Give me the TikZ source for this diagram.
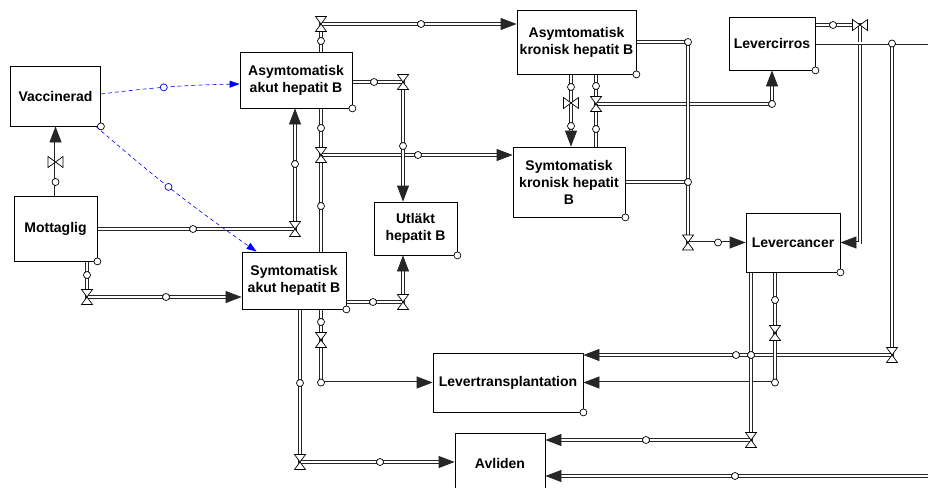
\documentclass[tikz,border=0pt]{standalone}
\usepackage{fontspec}
\setmainfont{Liberation Sans}
\usetikzlibrary{arrows.meta, calc, backgrounds}

\begin{document}
\begin{tikzpicture}[
    x=1pt, y=-1pt,
    every node/.style={font=\fontsize{14}{17}\selectfont\bfseries},
    stock/.style={draw, line width=0.8pt, align=center, inner sep=2pt, fill=white},
    pipe/.style={draw=black!85, line width=0.8pt, double=white, double distance=2pt},
    flow/.style={pipe, -{Triangle[length=16pt, width=12pt]}},
    hdl/.style={circle, draw, solid, fill=white, line width=0.7pt, inner sep=0pt, minimum size=7pt},
    lhdl/.style={hdl, draw=blue},
    link/.style={draw=blue, line width=0.6pt, dash pattern=on 4pt off 3pt, -{Triangle[length=10pt, width=7pt]}},
    valveh/.style={inner sep=0pt, minimum width=13pt, minimum height=17pt, path picture={
        \draw[line width=0.7pt, fill=white]
          ($(path picture bounding box.center)+(-5.5,-7.5)$) -- ($(path picture bounding box.center)+(5.5,-7.5)$)
          -- ($(path picture bounding box.center)+(-5.5,7.5)$) -- ($(path picture bounding box.center)+(5.5,7.5)$) -- cycle;}},
    valvev/.style={inner sep=0pt, minimum width=17pt, minimum height=13pt, path picture={
        \draw[line width=0.7pt, fill=white]
          ($(path picture bounding box.center)+(-7.5,-5.5)$) -- ($(path picture bounding box.center)+(-7.5,5.5)$)
          -- ($(path picture bounding box.center)+(7.5,-5.5)$) -- ($(path picture bounding box.center)+(7.5,5.5)$) -- cycle;}},
  ]
  \useasboundingbox (0,0) rectangle (928,487);
  % --- stocks
  \node[stock, minimum width=90pt, minimum height=60pt] (vac) at (55.5,96) {Vaccinerad};
  \node[stock, minimum width=83pt, minimum height=65pt] (mott) at (55.5,228.5) {Mottaglig};
  \node[stock, minimum width=112pt, minimum height=56pt] (asa) at (296,80) {Asymtomatisk\\akut hepatit B};
  \node[stock, minimum width=104pt, minimum height=57pt] (sya) at (294,280.5) {Symtomatisk\\akut hepatit B};
  \node[stock, minimum width=83pt, minimum height=53pt] (utl) at (415.5,228.5) {Utläkt\\hepatit B};
  \node[stock, minimum width=119pt, minimum height=64pt] (ask) at (576.5,42) {Asymtomatisk\\kronisk hepatit B};
  \node[stock, minimum width=112pt, minimum height=70pt] (syk) at (569,182) {Symtomatisk\\kronisk hepatit\\B};
  \node[stock, minimum width=86pt, minimum height=53pt] (cir) at (772,43.5) {Levercirros};
  \node[stock, minimum width=94pt, minimum height=59pt] (can) at (793,242.5) {Levercancer};
  \node[stock, minimum width=150pt, minimum height=59pt] (ltx) at (508,382.5) {Levertransplantation};
  \node[stock, minimum width=90pt, minimum height=60pt] (avl) at (500,463) {Avliden};
  % --- valves
  \node[valvev] (v1) at (55.5,162) {};
  \node[valveh] (v2) at (295,229) {};
  \node[valveh] (v3) at (87,297) {};
  \node[valveh] (v4) at (321,24) {};
  \node[valveh] (v5) at (321,155) {};
  \node[valveh] (v6) at (403,82) {};
  \node[valveh] (v7) at (403,302) {};
  \node[valvev] (v8) at (571,103) {};
  \node[valveh] (v9) at (596,104) {};
  \node[valveh] (v10) at (688,242.5) {};
  \node[valvev] (v11) at (860,25) {};
  \node[valveh] (v12) at (892,355) {};
  \node[valveh] (v13) at (775,333) {};
  \node[valveh] (v14) at (751,440) {};
  \node[valveh] (v15) at (321,340) {};
  \node[valveh] (v16) at (300,462) {};
  \node[valveh] (v17) at (934,476) {};
  \coordinate (out) at (950,43.5);
  % --- pipes
  \begin{scope}[on background layer]
    \draw[flow] (mott.north) -- (vac.south);
    \draw[flow] (v2.center -| mott.east) -- (v2.center) -- (v2.center |- asa.south);
    \draw[flow] (v3.center |- mott.south) -- (v3.center) -- (v3.center -| sya.west);
    \draw[flow] (v4.center |- asa.north) -- (v4.center) -- (v4.center -| ask.west);
    \draw[flow] (v5.center |- asa.south) -- (v5.center) -- (v5.center -| syk.west);
    \draw[pipe] (v5.center |- sya.north) -- (v5.center);
    \draw[flow] (v6.center -| asa.east) -- (v6.center) -- (v6.center |- utl.north);
    \draw[flow] (v7.center -| sya.east) -- (v7.center) -- (v7.center |- utl.south);
    \draw[flow] (v8.center |- ask.south) -- (v8.center |- syk.north);
    \draw[flow] (v9.center |- ask.south) -- (v9.center) -- (v9.center -| cir.south) -- (cir.south);
    \draw[pipe] (v9.center |- syk.north) -- (v9.center);
    \draw[flow] (ask.east) -- (ask.east -| v10.center) -- (v10.center) -- (can.west);
    \draw[pipe] (syk.east) -- (syk.east -| v10.center);
    \draw[flow] (v11.center -| cir.east) -- (v11.center) -- (v11.center |- can.east) -- (can.east);
    \draw[flow] (cir.east) -- (cir.east -| v12.center) -- (v12.center) -- (v12.center -| ltx.east);
    \draw[flow] (cir.east) -- (out) -- (out |- v17.center) -- (v17.center -| avl.east);
    \draw[flow] (v13.center |- can.south) -- (v13.center) -- (v13.center |- ltx.east) -- (ltx.east);
    \draw[flow] (v14.center |- can.south) -- (v14.center) -- (v14.center -| avl.east);
    \draw[flow] (v15.center |- sya.south) -- (v15.center) -- (v15.center |- ltx.west) -- (ltx.west);
    \draw[flow] (v16.center |- sya.south) -- (v16.center) -- (v16.center -| avl.west);
  \end{scope}
  % --- handles on pipes
  \node[hdl] (h1) at (55.5,182) {};
  \node[hdl] (h2) at (193,229) {};
  \node[hdl] (h3) at (295,164) {};
  \node[hdl] (h4) at (87,275) {};
  \node[hdl] (h5) at (166,297) {};
  \node[hdl] (h6) at (321,41) {};
  \node[hdl] (h7) at (421,24) {};
  \node[hdl] (h8) at (321,128) {};
  \node[hdl] (h9) at (418,155) {};
  \node[hdl] (h10) at (321,206) {};
  \node[hdl] (h11) at (374,82) {};
  \node[hdl] (h12) at (403,146) {};
  \node[hdl] (h13) at (373,302) {};
  \node[hdl] (h14) at (571,87) {};
  \node[hdl] (h15) at (571,126) {};
  \node[hdl] (h16) at (596,86) {};
  \node[hdl] (h17) at (772,104) {};
  \node[hdl] (h18) at (596,129) {};
  \node[hdl] (h19) at (688,42) {};
  \node[hdl] (h20) at (718,242.5) {};
  \node[hdl] (h21) at (688,182) {};
  \node[hdl] (h22) at (833,25) {};
  \node[hdl] (h23) at (892,43.5) {};
  \node[hdl] (h24) at (736,355) {};
  \node[hdl] (h25) at (735,476) {};
  \node[hdl] (h26) at (775,300) {};
  \node[hdl] (h27) at (775,382.5) {};
  \node[hdl] (h28) at (751,355) {};
  \node[hdl] (h29) at (646,440) {};
  \node[hdl] (h30) at (321,322) {};
  \node[hdl] (h31) at (321,382.5) {};
  \node[hdl] (h32) at (300,383) {};
  \node[hdl] (h33) at (380,462) {};
  % --- corner handles
  \node[hdl] (vac-h) at (vac.south east) {};
  \node[hdl] (mott-h) at (mott.south east) {};
  \node[hdl] (asa-h) at (asa.south east) {};
  \node[hdl] (sya-h) at (sya.south east) {};
  \node[hdl] (utl-h) at (utl.south east) {};
  \node[hdl] (ask-h) at (ask.south east) {};
  \node[hdl] (syk-h) at (syk.south east) {};
  \node[hdl] (cir-h) at (cir.south east) {};
  \node[hdl] (can-h) at (can.south east) {};
  \node[hdl] (ltx-h) at (ltx.south east) {};
  % --- links
  \draw[link] ([yshift=2pt]vac.east) to[bend left=3] node[lhdl, pos=0.45] (l1) {} ([yshift=-4pt]asa.west);
  \draw[link] ([xshift=-5pt]vac.south east) to[bend right=3] node[lhdl, pos=0.46] (l2) {} ([xshift=15pt]sya.north west);
\end{tikzpicture}
\end{document}
